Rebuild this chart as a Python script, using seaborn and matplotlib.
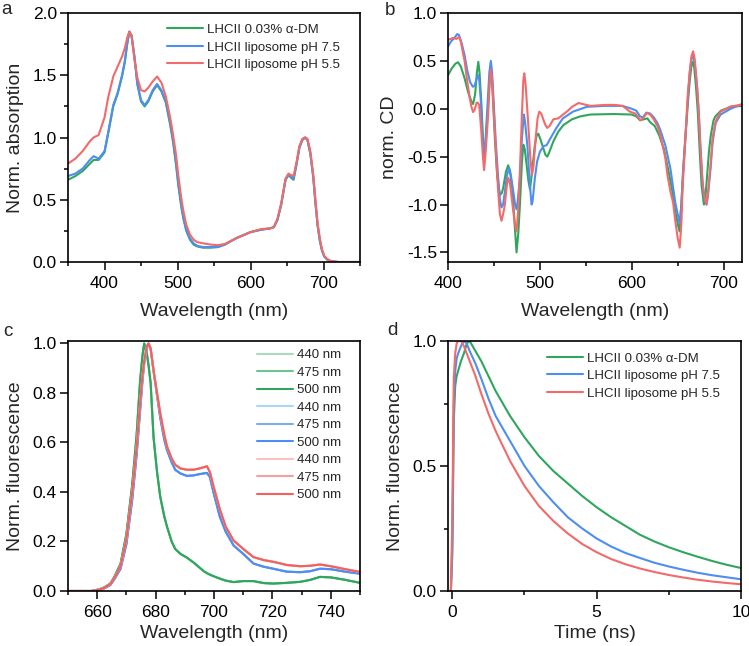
import matplotlib
matplotlib.use("Agg")
import matplotlib.pyplot as plt
from matplotlib.ticker import MultipleLocator
import seaborn as sns

sns.set_theme(style="ticks")
plt.rcParams['font.family'] = ['Liberation Sans', 'DejaVu Sans']
plt.rcParams['axes.unicode_minus'] = False

# ---- labels / colours
samples = ['LHCII 0.03% α-DM', 'LHCII liposome pH 7.5', 'LHCII liposome pH 5.5']
colors = ['#2fa65c', '#4d8ef0', '#f26a6a']
exc_labels = ['440 nm', '475 nm', '500 nm']
shades_green = ['#a9dcbb', '#6cc48f', '#2fa65c']
shades_blue = ['#aad6f7', '#7eaaf0', '#4d8ef0']
shades_red = ['#f8c2c2', '#f5a0a0', '#f26060']

# ---- a: absorption
wl_abs = [350, 360, 370, 380, 385, 392, 400, 405, 412, 418, 424, 428, 431, 434, 437, 441,
          445, 450, 455, 460, 466, 472, 478, 484, 490, 494, 498, 501, 505, 508, 512, 517,
          522, 527, 535, 545, 555, 565, 580, 600, 615, 627, 632, 637, 642, 648, 652, 655,
          659, 663, 667, 671, 675, 678, 682, 686, 689, 692, 695, 698, 701, 705, 710, 720, 750]
abs_dm = [0.66, 0.69, 0.73, 0.79, 0.82, 0.82, 0.88, 1.03, 1.25, 1.35, 1.49, 1.61, 1.75, 1.85, 1.82, 1.65,
          1.43, 1.29, 1.25, 1.29, 1.37, 1.42, 1.37, 1.28, 1.10, 0.96, 0.78, 0.62, 0.45, 0.35, 0.25, 0.18,
          0.14, 0.125, 0.115, 0.115, 0.12, 0.14, 0.19, 0.24, 0.26, 0.27, 0.28, 0.34, 0.46, 0.66, 0.70, 0.68,
          0.66, 0.78, 0.92, 0.98, 1.0, 0.98, 0.87, 0.68, 0.47, 0.29, 0.17, 0.09, 0.045, 0.02, 0.006, 0.0, 0.0]
abs_ph75 = [0.69, 0.71, 0.75, 0.82, 0.85, 0.83, 0.89, 1.04, 1.26, 1.36, 1.50, 1.62, 1.75, 1.85, 1.82, 1.65,
            1.43, 1.30, 1.26, 1.30, 1.38, 1.43, 1.38, 1.29, 1.12, 0.98, 0.80, 0.64, 0.47, 0.36, 0.26, 0.19,
            0.15, 0.13, 0.12, 0.12, 0.12, 0.14, 0.19, 0.24, 0.26, 0.27, 0.28, 0.34, 0.46, 0.66, 0.70, 0.69,
            0.67, 0.79, 0.92, 0.98, 1.0, 0.98, 0.87, 0.68, 0.47, 0.29, 0.17, 0.09, 0.045, 0.02, 0.006, 0.0, 0.0]
abs_ph55 = [0.79, 0.83, 0.89, 0.97, 1.0, 1.02, 1.16, 1.32, 1.49, 1.57, 1.65, 1.72, 1.80, 1.85, 1.82, 1.63,
            1.48, 1.38, 1.37, 1.40, 1.45, 1.49, 1.44, 1.33, 1.16, 1.02, 0.86, 0.70, 0.52, 0.41, 0.30, 0.22,
            0.18, 0.16, 0.15, 0.14, 0.135, 0.145, 0.19, 0.24, 0.265, 0.27, 0.28, 0.35, 0.47, 0.67, 0.71, 0.70,
            0.69, 0.80, 0.93, 0.99, 1.0, 0.99, 0.89, 0.70, 0.50, 0.31, 0.19, 0.10, 0.05, 0.025, 0.008, 0.0, 0.0]

# ---- b: CD
wl_cd_dm = [400, 404, 408, 410.9, 414, 418, 422, 425.5, 427.3, 429.5, 431.5, 433, 434.3, 436.4, 438,
            439.5, 441, 443, 445, 446.4, 448, 451, 453.5, 456.4, 458.5, 460, 463, 465.5, 467.5, 470.2,
            472.5, 474.6, 476.5, 478.3, 480.5, 482, 483.5, 485.5, 487.5, 489.2, 491, 494.6, 496.5, 498.3,
            501, 503.7, 506, 508, 510, 514.7, 520, 525.6, 535, 543.8, 555, 580, 600, 605, 609, 613, 617,
            620, 625, 630, 635, 640, 644, 647, 650, 652, 654, 656, 658.4, 661, 663.2, 665, 666.5, 668,
            670, 672, 674, 676, 678.5, 680, 682, 684, 686, 689, 691, 697, 708, 720]
cd_dm = [0.35, 0.42, 0.47, 0.486, 0.44, 0.32, 0.17, 0.076, 0.05, 0.15, 0.38, 0.49, 0.38, 0.04, -0.3,
         -0.48, -0.35, -0.06, 0.25, 0.39, 0.28, -0.31, -0.7, -0.9, -0.88, -0.83, -0.66, -0.59, -0.65, -0.86,
         -1.2, -1.5, -1.3, -1.0, -0.55, -0.375, -0.42, -0.58, -0.75, -0.84, -0.7, -0.375, -0.28, -0.26,
         -0.33, -0.41, -0.48, -0.5, -0.46, -0.34, -0.24, -0.17, -0.11, -0.08, -0.06, -0.055, -0.06, -0.08,
         -0.12, -0.11, -0.1, -0.14, -0.18, -0.28, -0.42, -0.65, -0.85, -1.05, -1.2, -1.28, -1.0, -0.62,
         -0.3, 0.05, 0.3, 0.45, 0.49, 0.43, 0.22, -0.05, -0.45, -0.8, -1.0, -0.95, -0.7, -0.45, -0.28,
         -0.12, -0.08, -0.02, 0.02, 0.03]
wl_cd_ph75 = [400, 403, 407, 410, 412, 415, 418, 421, 424, 427, 429, 431, 432.8, 434, 435.5, 437, 438.5,
              439.5, 441, 443, 445, 446.6, 448, 450, 452, 454.6, 456.5, 458.2, 460, 462, 464, 466.6, 468.5,
              471, 473, 474.6, 476, 478.3, 480.5, 482.6, 484, 486.3, 488.5, 490, 491, 492, 494.6, 497, 500,
              504, 507.4, 512, 518, 525, 536, 551, 570, 590, 600, 605, 609, 612, 616, 620, 624, 628, 631,
              636.5, 642, 647.4, 650, 652.2, 654, 656, 658.4, 661, 663.2, 665, 666.8, 668.5, 671.2, 673,
              674.8, 677, 679, 681.4, 683, 685.8, 688, 691.3, 696.7, 707.6, 715, 720]
cd_ph75 = [0.65, 0.70, 0.74, 0.78, 0.77, 0.68, 0.56, 0.40, 0.28, 0.23, 0.24, 0.31, 0.35, 0.30, 0.12, -0.2,
           -0.45, -0.50, -0.3, 0.04, 0.38, 0.50, 0.38, 0.02, -0.35, -0.72, -0.95, -1.03, -1.0, -0.86, -0.7,
           -0.62, -0.7, -0.86, -1.0, -1.05, -0.95, -0.72, -0.3, -0.06, -0.15, -0.375, -0.7, -0.9, -1.0, -0.97,
           -0.72, -0.55, -0.45, -0.39, -0.38, -0.3, -0.2, -0.1, -0.03, 0.02, 0.03, 0.03, 0.0, -0.02, -0.08,
           -0.09, -0.04, -0.05, -0.09, -0.15, -0.22, -0.38, -0.62, -0.98, -1.1, -1.2, -1.0, -0.65, -0.3, 0.1,
           0.39, 0.52, 0.55, 0.48, 0.22, -0.05, -0.41, -0.78, -0.95, -1.0, -0.9, -0.62, -0.35, -0.15, -0.06,
           0.0, 0.03, 0.05]
wl_cd_ph55 = [400, 403, 405.5, 409, 412, 414, 416, 418.2, 421, 423.7, 425.5, 427.3, 429, 431, 432.3, 433.9,
              436, 438, 439.3, 441, 443.7, 445.5, 446.6, 448, 451, 454.6, 456.5, 458.2, 460, 461.9, 464,
              465.5, 467.5, 470.2, 472.5, 474.6, 476.5, 478.3, 480.5, 482, 483, 484.5, 487.4, 489.5, 491.4,
              493, 495.4, 497.5, 499.4, 501.5, 503.7, 506, 508, 510.5, 514.7, 520, 529.3, 535, 542, 555,
              570, 582, 590, 598, 604, 609.3, 612, 616.6, 620, 623.9, 628, 631, 636.5, 639, 642, 645, 647.4,
              650, 652.2, 654, 655.5, 658.4, 661, 663.2, 665, 666.8, 668.5, 671.2, 673, 674.8, 677, 679,
              681.4, 683, 685.8, 688, 691.3, 696.7, 707.6, 718.5, 720]
cd_ph55 = [0.72, 0.73, 0.74, 0.73, 0.75, 0.70, 0.60, 0.49, 0.28, 0.11, 0.02, -0.035, -0.01, 0.06, 0.065,
           0.04, -0.2, -0.5, -0.64, -0.45, -0.06, 0.3, 0.41, 0.3, -0.24, -0.86, -1.1, -1.17, -1.1, -1.0,
           -0.8, -0.72, -0.78, -1.0, -1.18, -1.28, -1.05, -0.65, -0.05, 0.3, 0.37, 0.25, -0.17, -0.5, -0.69,
           -0.6, -0.31, -0.1, -0.03, -0.05, -0.11, -0.17, -0.2, -0.18, -0.11, -0.1, -0.03, 0.02, 0.06, 0.03,
           0.04, 0.04, 0.03, -0.03, -0.05, -0.12, -0.1, -0.045, -0.06, -0.11, -0.18, -0.27, -0.51, -0.7,
           -0.86, -0.98, -1.17, -1.35, -1.45, -1.2, -0.8, -0.3, 0.15, 0.39, 0.55, 0.6, 0.52, 0.22, -0.05,
           -0.41, -0.75, -0.92, -1.0, -0.88, -0.58, -0.3, -0.13, -0.03, 0.024, 0.04, 0.03]

# ---- c: steady-state fluorescence
wl_fl = [650, 658, 660, 662, 664.5, 666, 668, 670, 672, 673.5, 674.7, 675.5, 676.1, 677, 677.6, 678.3,
         679.3, 680.5, 681.6, 683, 683.9, 685.5, 686.7, 688.5, 690.7, 693, 695, 696.5, 697.6, 698.6,
         699.8, 702, 704, 706.7, 710, 713.5, 717, 720.3, 725, 729.5, 733, 736.3, 740, 745, 750]
fl_dm = [0.0, 0.0, 0.005, 0.012, 0.03, 0.06, 0.11, 0.23, 0.43, 0.63, 0.85, 0.95, 1.0, 0.96, 0.91, 0.84,
         0.62, 0.48, 0.38, 0.30, 0.26, 0.2, 0.17, 0.15, 0.135, 0.115, 0.095, 0.08, 0.072, 0.066,
         0.06, 0.05, 0.042, 0.036, 0.04, 0.04, 0.032, 0.03, 0.033, 0.037, 0.045, 0.057, 0.055, 0.045, 0.033]
fl_ph75 = [0.0, 0.0, 0.003, 0.008, 0.024, 0.05, 0.09, 0.19, 0.37, 0.55, 0.73, 0.85, 0.92, 0.98, 1.0, 0.98,
           0.89, 0.79, 0.70, 0.61, 0.57, 0.52, 0.49, 0.475, 0.465, 0.467, 0.472, 0.475, 0.477, 0.46,
           0.40, 0.30, 0.24, 0.184, 0.15, 0.111, 0.098, 0.09, 0.078, 0.076, 0.08, 0.09, 0.088, 0.078, 0.07]
fl_ph55 = [0.0, 0.0, 0.004, 0.01, 0.028, 0.055, 0.10, 0.21, 0.40, 0.58, 0.76, 0.87, 0.93, 0.99, 1.0, 0.98,
           0.89, 0.80, 0.717, 0.63, 0.584, 0.535, 0.51, 0.495, 0.49, 0.49, 0.495, 0.50, 0.504, 0.48,
           0.424, 0.33, 0.26, 0.204, 0.17, 0.137, 0.125, 0.118, 0.105, 0.10, 0.102, 0.107, 0.10, 0.088, 0.077]

# ---- d: fluorescence decay
t_ns = [-0.05, 0.0, 0.05, 0.1, 0.15, 0.2, 0.3, 0.4, 0.5, 0.6, 0.8, 1.0, 1.25, 1.5, 2.0, 2.5, 3.0,
        3.5, 4.0, 4.5, 5.0, 5.5, 6.0, 6.5, 7.0, 7.5, 8.0, 8.5, 9.0, 9.5, 10.0]
dec_dm = [0.0, 0.15, 0.68, 0.82, 0.86, 0.88, 0.92, 0.95, 0.99, 1.0, 0.96, 0.92, 0.86, 0.80, 0.70, 0.615, 0.54,
          0.48, 0.43, 0.38, 0.335, 0.295, 0.26, 0.225, 0.198, 0.175, 0.155, 0.137, 0.12, 0.105, 0.092]
dec_ph75 = [0.0, 0.2, 0.75, 0.88, 0.93, 0.95, 0.98, 1.0, 0.99, 0.96, 0.91, 0.85, 0.77, 0.70, 0.60, 0.50, 0.42,
            0.355, 0.295, 0.25, 0.21, 0.178, 0.152, 0.132, 0.113, 0.098, 0.085, 0.073, 0.063, 0.055, 0.047]
dec_ph55 = [0.0, 0.3, 0.85, 0.95, 0.99, 1.0, 1.0, 0.98, 0.95, 0.92, 0.86, 0.79, 0.71, 0.64, 0.52, 0.42, 0.34,
            0.28, 0.23, 0.188, 0.155, 0.128, 0.107, 0.09, 0.076, 0.064, 0.054, 0.045, 0.038, 0.032, 0.027]

LW = 1.5


def line(ax, x, y, color, label):
    sns.lineplot(x=x, y=y, ax=ax, color=color, lw=LW, label=label, legend=False,
                 sort=False, estimator=None)


def style(ax, xlabel, ylabel, xlab_y, ylab_x):
    for s in ax.spines.values():
        s.set_linewidth(1.2)
        s.set_color('black')
    ax.tick_params(which='both', direction='out', top=False, right=False, width=1.1,
                   colors='black', labelsize=12.5)
    ax.tick_params(which='major', length=5.5)
    ax.tick_params(which='minor', length=3)
    ax.tick_params(axis='x', pad=4.5)
    ax.tick_params(axis='y', pad=2.5)
    ax.set_xlabel(xlabel, fontsize=14)
    ax.set_ylabel(ylabel, fontsize=14)
    ax.xaxis.set_label_coords(0.5, xlab_y)
    ax.yaxis.set_label_coords(ylab_x, 0.5)


def legend(ax, x, y):
    ax.legend(loc='upper left', bbox_to_anchor=(x, y), frameon=False, fontsize=9.5,
              handlelength=2.7, handletextpad=0.3, borderaxespad=0, labelspacing=0.4)


fig = plt.figure(figsize=(7.49, 6.46), dpi=100)
W, H = 749, 646


def rect(l, t, r, b):
    return [l / W, 1 - b / H, (r - l) / W, (b - t) / H]


ax_a = fig.add_axes(rect(68, 13, 360, 262))
ax_b = fig.add_axes(rect(448, 13, 742, 262))
ax_c = fig.add_axes(rect(68, 341, 360, 591))
ax_d = fig.add_axes(rect(448, 341, 741, 591))

# a
for vals, c, lab in zip([abs_dm, abs_ph75, abs_ph55], colors, samples):
    line(ax_a, wl_abs, vals, c, lab)
ax_a.set_xlim(350, 750)
ax_a.set_ylim(0, 2.0)
ax_a.xaxis.set_major_locator(MultipleLocator(100))
ax_a.xaxis.set_minor_locator(MultipleLocator(50))
ax_a.yaxis.set_major_locator(MultipleLocator(0.5))
ax_a.yaxis.set_minor_locator(MultipleLocator(0.25))
ax_a.yaxis.set_major_formatter('{x:.1f}')
style(ax_a, 'Wavelength (nm)', 'Norm. absorption', -0.165, -0.15)
legend(ax_a, 0.322, 0.978)

# b
for x, vals, c, lab in zip([wl_cd_dm, wl_cd_ph75, wl_cd_ph55], [cd_dm, cd_ph75, cd_ph55], colors, samples):
    line(ax_b, x, vals, c, lab)
ax_b.set_xlim(400, 720)
ax_b.set_ylim(-1.6, 1.0)
ax_b.xaxis.set_major_locator(MultipleLocator(100))
ax_b.xaxis.set_minor_locator(MultipleLocator(50))
ax_b.yaxis.set_major_locator(MultipleLocator(0.5))
ax_b.yaxis.set_major_formatter('{x:.1f}')
style(ax_b, 'Wavelength (nm)', 'norm. CD', -0.165, -0.17)

# c
for vals, shades in zip([fl_dm, fl_ph75, fl_ph55], [shades_green, shades_blue, shades_red]):
    for sh, lab in zip(shades, exc_labels):
        line(ax_c, wl_fl, vals, sh, lab)
ax_c.set_xlim(650, 750)
ax_c.set_ylim(0, 1.01)
ax_c.xaxis.set_major_locator(MultipleLocator(20))
ax_c.xaxis.set_minor_locator(MultipleLocator(10))
ax_c.yaxis.set_major_locator(MultipleLocator(0.2))
ax_c.yaxis.set_major_formatter('{x:.1f}')
style(ax_c, 'Wavelength (nm)', 'Norm. fluorescence', -0.135, -0.15)
legend(ax_c, 0.63, 0.989)

# d
for vals, c, lab in zip([dec_dm, dec_ph75, dec_ph55], colors, samples):
    line(ax_d, t_ns, vals, c, lab)
ax_d.set_xlim(-0.15, 10)
ax_d.set_ylim(0, 1.0)
ax_d.xaxis.set_major_locator(MultipleLocator(5))
ax_d.xaxis.set_minor_locator(MultipleLocator(2.5))
ax_d.yaxis.set_major_locator(MultipleLocator(0.5))
ax_d.yaxis.set_minor_locator(MultipleLocator(0.25))
ax_d.yaxis.set_major_formatter('{x:.1f}')
style(ax_d, 'Time (ns)', 'Norm. fluorescence', -0.135, -0.15)
legend(ax_d, 0.32, 0.976)

# panel letters
for letter, px, py in [('a', 1, 14), ('b', 385, 15), ('c', 3, 336), ('d', 387, 335)]:
    fig.text(px / W, 1 - py / H, letter, fontsize=13.5, va='baseline', ha='left')

fig.savefig('out.png', dpi=100)
